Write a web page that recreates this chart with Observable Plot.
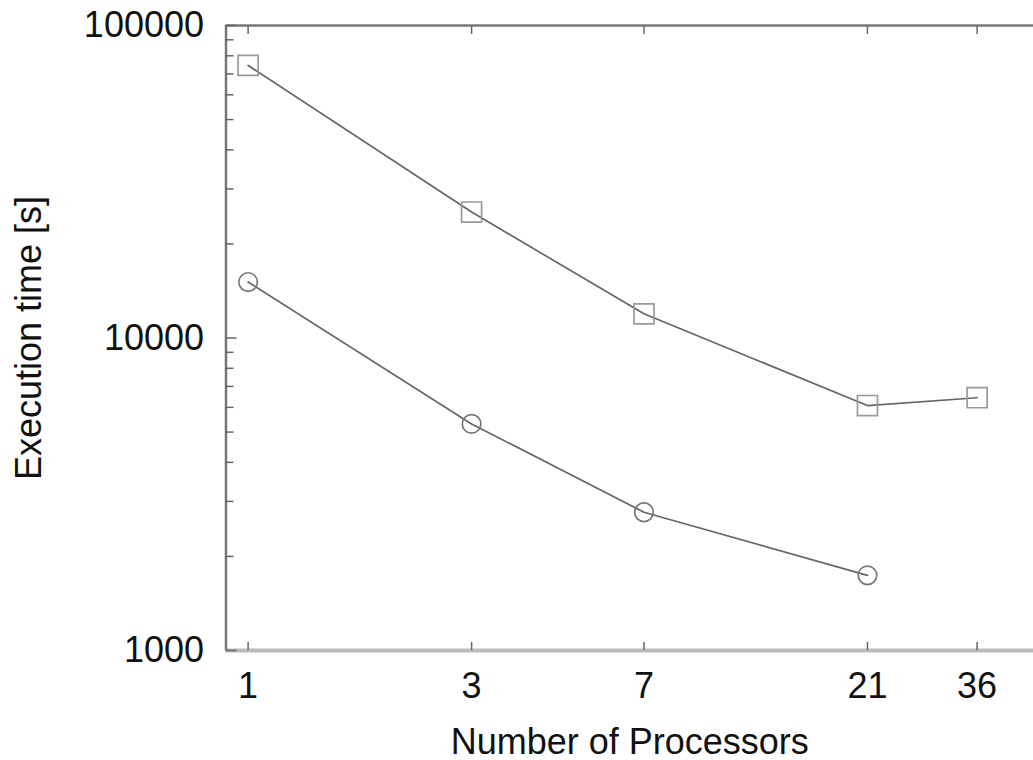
<!DOCTYPE html>
<html><head><meta charset="utf-8">
<script src="https://cdn.jsdelivr.net/npm/d3@7"></script>
<script src="https://cdn.jsdelivr.net/npm/@observablehq/plot@0.6"></script>
<style>body{margin:0;background:#fff}</style>
</head><body><div id="chart"></div>
<script>
const squareProcessors = [1, 3, 7, 21, 36];
const squareTimes = [74500, 25300, 11950, 6080, 6440];
const circleProcessors = [1, 3, 7, 21];
const circleTimes = [15100, 5310, 2770, 1740];
const xTicks = [1, 3, 7, 21, 36];
const yTicks = [1000, 10000, 100000];
const yMinorTicks = [2000, 3000, 4000, 5000, 6000, 7000, 8000, 9000,
                     20000, 30000, 40000, 50000, 60000, 70000, 80000, 90000];
const xDomain = [0.897, 47.5];
const yDomain = [1000, 100000];

const squares = squareProcessors.map((p, i) => ({p, t: squareTimes[i]}));
const circles = circleProcessors.map((p, i) => ({p, t: circleTimes[i]}));

const FONT = "'Liberation Sans', Arial, Helvetica, sans-serif";
const noText = () => "";

const chart = Plot.plot({
  width: 1033,
  height: 760,
  marginLeft: 225.5,
  marginRight: 0,
  marginTop: 25,
  marginBottom: 110,
  style: {fontFamily: FONT, color: "#111", background: "#fff", overflow: "visible"},
  x: {type: "log", domain: xDomain},
  y: {type: "log", domain: yDomain},
  marks: [
    // frame
    Plot.ruleY([yDomain[1]], {stroke: "#777", strokeWidth: 2.5}),
    Plot.ruleY([yDomain[0]], {stroke: "#bbb", strokeWidth: 4}),
    Plot.ruleX([xDomain[0]], {stroke: "#777", strokeWidth: 2.5}),
    // inward ticks
    Plot.axisY({anchor: "left", ticks: yMinorTicks, tickSize: 8, dx: 8, tickFormat: noText, label: null, stroke: "#666", strokeWidth: 1.5}),
    Plot.axisY({anchor: "left", ticks: yTicks, tickSize: 11, dx: 11, tickFormat: noText, label: null, stroke: "#666", strokeWidth: 1.5}),
    Plot.axisX({anchor: "top", ticks: xTicks, tickSize: 8, dy: 8, tickFormat: noText, label: null, stroke: "#666", strokeWidth: 1.5}),
    Plot.axisX({anchor: "bottom", ticks: xTicks, tickSize: 8, dy: -8, tickFormat: noText, label: null, stroke: "#666", strokeWidth: 1.5}),
    // labels
    Plot.axisY({anchor: "left", ticks: yTicks, tickSize: 0, tickPadding: 22, fontSize: 36,
      tickFormat: d => String(d), label: "Execution time [s]", labelAnchor: "center", labelArrow: "none", labelOffset: 211}),
    Plot.axisX({anchor: "bottom", ticks: xTicks, tickSize: 0, tickPadding: 22, fontSize: 36,
      tickFormat: d => String(d), label: "Number of Processors", labelAnchor: "center", labelArrow: "none", labelOffset: 103}),
    // data
    Plot.line(squares, {x: "p", y: "t", stroke: "#666", strokeWidth: 1.7}),
    Plot.line(circles, {x: "p", y: "t", stroke: "#666", strokeWidth: 1.7}),
    Plot.dot(squares, {x: "p", y: "t", symbol: "square", r: 11.3, stroke: "#999", strokeWidth: 1.7, fill: "none"}),
    Plot.dot(circles, {x: "p", y: "t", symbol: "circle", r: 9.3, stroke: "#777", strokeWidth: 1.7, fill: "none"})
  ]
});
document.getElementById("chart").appendChild(chart);
</script>
</body></html>
